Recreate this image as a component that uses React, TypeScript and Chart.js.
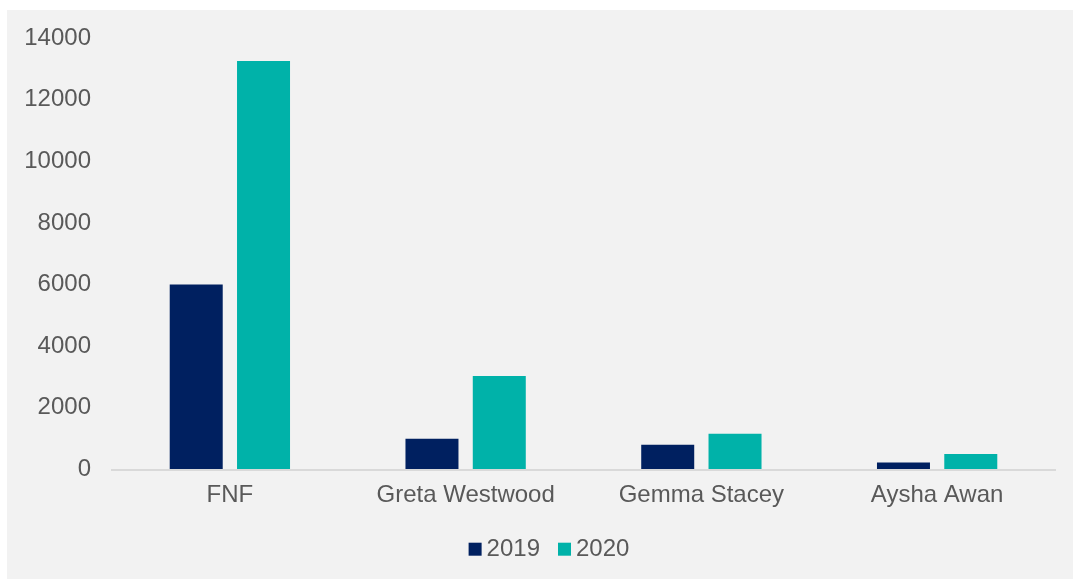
import React, { useEffect, useRef } from "react";
import { Chart, registerables } from "chart.js";

Chart.register(...registerables);

const categories = ["FNF", "Greta Westwood", "Gemma Stacey", "Aysha Awan"];
const values2019 = [6000, 1000, 800, 230];
const values2020 = [13250, 3030, 1160, 500];
const seriesLabels = ["2019", "2020"];
const seriesColors = ["#002060", "#00b2a9"];

const FONT = "'Liberation Sans', Arial, sans-serif";
const TEXT = "#595959";
const FONT_SIZE = 24;

const customLegend = {
  id: "customLegend",
  afterDraw(chart: any) {
    const ctx = chart.ctx;
    ctx.save();
    ctx.font = `${FONT_SIZE}px ${FONT}`;
    const box = 13;
    const gapText = 5;
    const gapItem = 18;
    const items = chart.data.datasets.map((d: any) => ({
      label: d.label,
      color: d.backgroundColor,
      w: ctx.measureText(d.label).width,
    }));
    let total = 0;
    items.forEach((it: any, i: number) => {
      total += box + gapText + it.w + (i < items.length - 1 ? gapItem : 0);
    });
    const centerX = 542;
    const boxTop = 532.7;
    const textY = 539.5;
    let x = centerX - total / 2;
    items.forEach((it: any) => {
      ctx.fillStyle = it.color;
      ctx.fillRect(x, boxTop, box, box);
      x += box + gapText;
      ctx.fillStyle = TEXT;
      ctx.textBaseline = "middle";
      ctx.textAlign = "left";
      ctx.fillText(it.label, x, textY);
      x += it.w + gapItem;
    });
    ctx.restore();
  },
};

export default function App() {
  const ref = useRef<HTMLCanvasElement | null>(null);
  useEffect(() => {
    if (!ref.current) return;
    const chart = new Chart(ref.current, {
      type: "bar",
      data: {
        labels: categories,
        datasets: [
          {
            label: seriesLabels[0],
            data: values2019,
            backgroundColor: seriesColors[0],
            borderWidth: 0,
            categoryPercentage: 0.571,
            barPercentage: 0.7875,
          },
          {
            label: seriesLabels[1],
            data: values2020,
            backgroundColor: seriesColors[1],
            borderWidth: 0,
            categoryPercentage: 0.571,
            barPercentage: 0.7875,
          },
        ],
      },
      options: {
        animation: false,
        responsive: false,
        devicePixelRatio: 1,
        layout: { padding: { top: 28, right: 18, left: 0, bottom: 59.5 } },
        plugins: {
          legend: { display: false },
          tooltip: { enabled: false },
        },
        scales: {
          x: {
            grid: { display: false, drawTicks: false },
            border: { display: true, color: "#d9d9d9", width: 2 },
            ticks: {
              color: TEXT,
              font: { family: FONT, size: FONT_SIZE },
              padding: 11,
              maxRotation: 0,
              autoSkip: false,
            },
            afterFit: (scale: any) => {
              scale.height = 50;
            },
          },
          y: {
            min: 0,
            max: 14000,
            grid: {
              display: true,
              drawOnChartArea: false,
              drawTicks: true,
              tickLength: 18,
              color: "rgba(0,0,0,0)",
            },
            border: { display: false },
            ticks: {
              stepSize: 2000,
              color: TEXT,
              font: { family: FONT, size: FONT_SIZE },
              padding: 3,
              callback: (v: any) => String(v),
            },
            afterFit: (scale: any) => {
              scale.width = 105;
            },
          },
        },
      },
      plugins: [customLegend],
    });
    return () => chart.destroy();
  }, []);
  return (
    <div
      style={{
        position: "absolute",
        left: 7,
        top: 10,
        width: 1066,
        height: 569,
        background: "#f2f2f2",
      }}
    >
      <canvas ref={ref} width={1066} height={569} style={{ width: 1066, height: 569, display: "block" }} />
    </div>
  );
}
